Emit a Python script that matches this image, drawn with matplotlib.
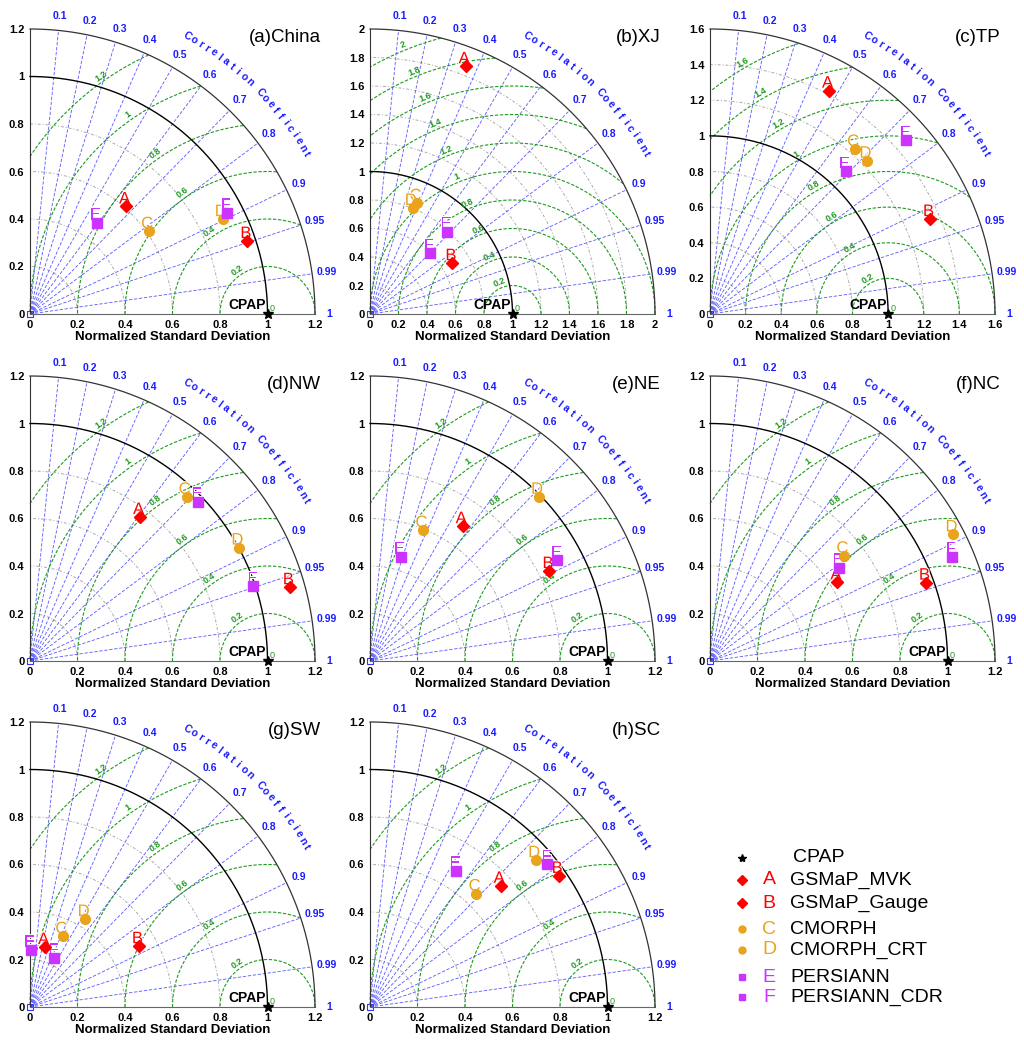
import numpy as np
import matplotlib.pyplot as plt
import matplotlib.patheffects as pe

plt.rcParams['font.family'] = ['Liberation Sans', 'DejaVu Sans']

# panels
titles = ['(a)China', '(b)XJ', '(c)TP', '(d)NW', '(e)NE', '(f)NC', '(g)SW', '(h)SC']
std_max = [1.2, 2.0, 1.6, 1.2, 1.2, 1.2, 1.2, 1.2]
rms_lab_ang = [125, 112, 120, 125, 125, 125, 125, 125]

letters = ['A', 'B', 'C', 'D', 'E', 'F']
products = ['GSMaP_MVK', 'GSMaP_Gauge', 'CMORPH', 'CMORPH_CRT', 'PERSIANN', 'PERSIANN_CDR']
markers = ['D', 'D', 'o', 'o', 's', 's']
colors = ['#ff0000', '#ff0000', '#e9a31c', '#e9a31c', '#cc33ff', '#cc33ff']

# normalized standard deviation and correlation of A..F in each region
std_china = [0.607, 0.965, 0.610, 0.904, 0.476, 0.931]
cor_china = [0.666, 0.948, 0.821, 0.897, 0.589, 0.889]
std_xj = [1.863, 0.679, 0.845, 0.802, 0.793, 0.600]
cor_xj = [0.360, 0.851, 0.393, 0.373, 0.685, 0.701]
std_tp = [1.421, 1.345, 1.233, 1.233, 1.105, 1.471]
cor_tp = [0.470, 0.918, 0.660, 0.716, 0.689, 0.748]
std_nw = [0.763, 1.137, 0.955, 1.002, 0.975, 0.991]
cor_nw = [0.607, 0.962, 0.690, 0.879, 0.726, 0.948]
std_ne = [0.689, 0.845, 0.595, 0.992, 0.458, 0.895]
cor_ne = [0.566, 0.894, 0.377, 0.717, 0.282, 0.880]
std_nc = [0.630, 0.967, 0.718, 1.155, 0.671, 1.108]
cor_nc = [0.851, 0.940, 0.787, 0.887, 0.811, 0.918]
std_sw = [0.260, 0.525, 0.329, 0.438, 0.241, 0.231]
cor_sw = [0.242, 0.873, 0.425, 0.533, 0.017, 0.443]
std_sc = [0.750, 0.967, 0.655, 0.933, 0.679, 0.959]
cor_sc = [0.733, 0.821, 0.684, 0.749, 0.536, 0.779]

all_std = [std_china, std_xj, std_tp, std_nw, std_ne, std_nc, std_sw, std_sc]
all_cor = [cor_china, cor_xj, cor_tp, cor_nw, cor_ne, cor_nc, cor_sw, cor_sc]

cor_ticks = [0.1, 0.2, 0.3, 0.4, 0.5, 0.6, 0.7, 0.8, 0.9, 0.95, 0.99, 1]
ref_std = 1.0

fig = plt.figure(figsize=(10.24, 10.49), dpi=100)

lefts = [30, 370, 710]
tops = [29, 376, 722]
size_px = 285
msize = {'D': 6.5, 'o': 7, 's': 6.5}


def taylor(ax, R, title, stds, cors, lab_ang):
    ax.set_xlim(0, R)
    ax.set_ylim(0, R)
    t = np.linspace(0, np.pi / 2, 300)
    # std arcs
    ax.plot(R * np.cos(t), R * np.sin(t), color='#333333', lw=0.9, clip_on=False, zorder=3)
    ax.plot(ref_std * np.cos(t), ref_std * np.sin(t), color='black', lw=1.0, clip_on=False, zorder=3)
    for r in np.arange(0.2, R - 0.01, 0.2):
        if abs(r - 1) < 1e-6:
            continue
        ax.plot(r * np.cos(t), r * np.sin(t), color='#aaaaaa', lw=0.7, ls=(0, (3, 2, 1, 2)), zorder=1)
    # correlation lines
    for c in cor_ticks:
        a = np.arccos(c)
        if c < 1:
            ax.plot([0, R * np.cos(a)], [0, R * np.sin(a)], color='#3a3aff', lw=0.6,
                    ls=(0, (4, 2)), alpha=0.85, zorder=1)
        lab = '%g' % c
        ax.text(1.05 * R * np.cos(a), 1.05 * R * np.sin(a), lab, color='#1a1aff',
                fontsize=7.5, fontweight='bold', ha='center', va='center')
    # curved title
    word = 'Correlation Coefficient'
    angs = np.linspace(60.5, 30, len(word))
    for ch, ang in zip(word, angs):
        ar = np.deg2rad(ang)
        ax.text(1.12 * R * np.cos(ar), 1.12 * R * np.sin(ar), ch, color='#1a1aff',
                fontsize=7.5, fontweight='bold', rotation=ang - 90,
                ha='center', va='center', rotation_mode='anchor')
    # RMS arcs about the reference
    tt = np.linspace(0, np.pi, 800)
    for rr in np.arange(0.2, R + 0.01, 0.2):
        x = ref_std + rr * np.cos(tt)
        y = rr * np.sin(tt)
        ok = (x >= 0) & (x ** 2 + y ** 2 <= R ** 2 + 1e-9)
        xm = np.where(ok, x, np.nan)
        ax.plot(xm, y, color='#1f9a1f', lw=0.8, ls=(0, (3, 1.5)), clip_on=False, zorder=2)
        la = np.deg2rad(lab_ang)
        lx = ref_std + (rr + 0.02 * R) * np.cos(la)
        ly = (rr + 0.02 * R) * np.sin(la)
        ax.text(lx, ly, '%g' % round(rr, 1), color='#1f9a1f', fontsize=6.5,
                fontweight='bold', rotation=lab_ang - 90, ha='center', va='center', zorder=4)
    ax.annotate('0', (ref_std, 0), xytext=(3.5, 4), textcoords='offset points',
                color='#1f9a1f', fontsize=6.5, ha='center', va='center')
    # reference point
    ax.plot([ref_std], [0], marker='*', color='black', ms=7, clip_on=False, zorder=6)
    ax.annotate('CPAP', (ref_std, 0), xytext=(-1, 1.5), textcoords='offset points',
                fontsize=10, fontweight='bold', ha='right', va='bottom', zorder=6)
    ax.plot([0], [0], marker='s', mfc='none', mec='#3333ff', ms=4, mew=0.8, clip_on=False)
    # products
    for i in range(len(letters)):
        a = np.arccos(cors[i])
        x = stds[i] * np.cos(a)
        y = stds[i] * np.sin(a)
        ax.plot(x, y, marker=markers[i], color=colors[i], ms=msize[markers[i]],
                ls='none', zorder=8, clip_on=False)
        ax.annotate(letters[i], (x, y), xytext=(3, 0), textcoords='offset points',
                    color=colors[i], fontsize=12, ha='right', va='bottom', zorder=7,
                    path_effects=[pe.withStroke(linewidth=1.5, foreground='white')])
    ax.text(1.02 * R, 0.97 * R, title, fontsize=13.5, ha='right', va='center')
    ticks = np.round(np.arange(0, R + 0.01, 0.2), 1)
    ax.set_xticks(ticks)
    ax.set_yticks(ticks)
    ax.set_xticklabels(['%g' % v for v in ticks], fontsize=8, fontweight='bold')
    ax.set_yticklabels(['%g' % v for v in ticks], fontsize=8, fontweight='bold')
    ax.tick_params(length=0, pad=4)
    for s in ['top', 'right']:
        ax.spines[s].set_visible(False)
    ax.spines['left'].set_color('#333333')
    ax.spines['bottom'].set_color('#666666')
    ax.set_xlabel('Normalized Standard Deviation', fontsize=9.5, fontweight='bold', labelpad=1)


for k in range(8):
    row, col = k // 3, k % 3
    left = lefts[col] / 1024
    bottom = (1049 - tops[row] - size_px) / 1049
    ax = fig.add_axes([left, bottom, size_px / 1024, size_px / 1049])
    taylor(ax, std_max[k], titles[k], all_std[k], all_cor[k], rms_lab_ang[k])

# legend
lg = fig.add_axes([0, 0, 1, 1], zorder=-1)
lg.set_xlim(0, 1024)
lg.set_ylim(1049, 0)
lg.axis('off')
row_y = [880, 903, 929, 950, 977, 997]
lg.plot(742, 858, marker='*', color='black', ms=6)
lg.text(793, 858, 'CPAP', fontsize=14, va='center', ha='left')
for i in range(len(letters)):
    lg.plot(742, row_y[i], marker=markers[i], color=colors[i],
            ms=5 if markers[i] == 'D' else 5)
    lg.text(769, row_y[i], letters[i], color=colors[i], fontsize=14, ha='center', va='center')
    lg.text(790, row_y[i], products[i], fontsize=14, ha='left', va='center')

fig.savefig('out.png', dpi=100)
